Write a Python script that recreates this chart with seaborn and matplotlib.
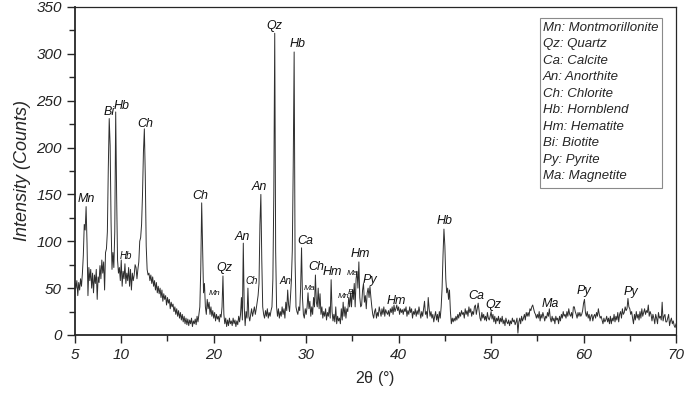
import numpy as np
import pandas as pd
import matplotlib
matplotlib.use('Agg')
import matplotlib.pyplot as plt
import seaborn as sns
from matplotlib.patches import Rectangle

# scan settings (degrees 2-theta)
scan_start = 5.0
scan_step = 0.1

# counts, one row per degree
counts = [
    55, 50, 58, 42, 56, 48, 60, 52, 66, 85,          # 5
    118, 112, 137, 98, 42, 72, 58, 70, 50, 66,       # 6
    45, 64, 55, 70, 38, 62, 56, 74, 60, 80,          # 7
    66, 78, 48, 88, 92, 110, 178, 231, 202, 120,     # 8
    70, 88, 72, 110, 238, 150, 80, 66, 72, 58,       # 9
    80, 52, 68, 60, 76, 55, 66, 58, 72, 52,          # 10
    70, 48, 66, 58, 64, 75, 72, 60, 70, 78,          # 11
    100, 104, 118, 150, 195, 220, 170, 95, 70, 64,   # 12
    66, 58, 64, 55, 62, 52, 58, 48, 56, 45,          # 13
    52, 44, 50, 40, 48, 36, 44, 38, 42, 32,          # 14
    40, 34, 38, 28, 35, 30, 33, 25, 30, 22,          # 15
    28, 20, 26, 18, 24, 16, 22, 14, 20, 12,          # 16
    18, 11, 17, 10, 16, 12, 18, 9, 15, 12,           # 17
    17, 11, 20, 14, 22, 30, 70, 141, 95, 45,         # 18
    55, 30, 22, 38, 28, 35, 22, 30, 20, 26,          # 19
    18, 24, 15, 22, 17, 20, 14, 22, 19, 30,          # 20
    63, 22, 12, 18, 9, 16, 10, 18, 12, 15,           # 21
    10, 18, 12, 16, 9, 15, 11, 20, 14, 22,           # 22
    40, 16, 98, 30, 10, 25, 18, 50, 20, 15,          # 23
    22, 28, 20, 25, 30, 22, 28, 35, 42, 55,          # 24
    118, 150, 80, 30, 22, 18, 26, 20, 28, 18,        # 25
    24, 20, 26, 30, 60, 150, 322, 90, 30, 20,        # 26
    28, 18, 25, 20, 30, 22, 28, 18, 35, 26,          # 27
    48, 32, 25, 40, 58, 90, 180, 302, 80, 30,        # 28
    25, 22, 30, 26, 50, 93, 40, 22, 18, 28,          # 29
    22, 30, 45, 28, 36, 20, 30, 22, 40, 30,          # 30
    64, 35, 30, 50, 28, 44, 22, 30, 18, 25,          # 31
    20, 28, 16, 24, 20, 30, 18, 59, 25, 15,          # 32
    22, 14, 30, 12, 20, 15, 18, 12, 28, 16,          # 33
    35, 20, 30, 18, 28, 25, 40, 30, 45, 30,          # 34
    48, 38, 55, 30, 60, 68, 50, 78, 40, 30,          # 35
    32, 48, 55, 35, 42, 28, 45, 50, 40, 52,          # 36
    40, 30, 22, 18, 25, 28, 18, 24, 20, 30,          # 37
    25, 20, 28, 22, 30, 20, 27, 24, 22, 26,          # 38
    20, 28, 24, 30, 22, 32, 25, 28, 32, 26,          # 39
    30, 22, 28, 24, 27, 22, 28, 25, 30, 20,          # 40
    26, 22, 30, 24, 28, 18, 25, 22, 28, 20,          # 41
    26, 22, 30, 24, 18, 25, 20, 28, 36, 22,          # 42
    25, 18, 40, 28, 20, 25, 18, 22, 14, 20,          # 43
    25, 16, 22, 14, 25, 18, 30, 50, 85, 113,         # 44
    95, 60, 45, 50, 38, 48, 25, 12, 18, 14,          # 45
    18, 15, 20, 16, 22, 18, 24, 20, 26, 22,          # 46
    24, 18, 28, 22, 26, 20, 30, 24, 28, 20,          # 47
    25, 22, 30, 32, 22, 28, 34, 26, 18, 15,          # 48
    24, 18, 22, 16, 20, 15, 24, 18, 16, 20,          # 49
    25, 17, 22, 14, 20, 12, 18, 15, 20, 12,          # 50
    18, 14, 20, 12, 16, 10, 18, 14, 12, 16,          # 51
    10, 15, 12, 18, 14, 16, 11, 14, 18, 2,           # 52
    14, 18, 12, 20, 15, 18, 22, 16, 24, 20,          # 53
    24, 20, 28, 26, 30, 32, 28, 24, 22, 18,          # 54
    22, 18, 25, 15, 22, 18, 24, 20, 15, 20,          # 55
    18, 24, 20, 28, 18, 14, 20, 15, 18, 12,          # 56
    20, 16, 18, 12, 20, 15, 22, 18, 25, 20,          # 57
    22, 18, 25, 20, 28, 22, 20, 24, 18, 30,          # 58
    30, 25, 22, 18, 24, 20, 24, 20, 22, 26,          # 59
    34, 38, 24, 20, 25, 18, 22, 15, 20, 22,          # 60
    15, 20, 22, 18, 24, 20, 28, 22, 18, 20,          # 61
    16, 12, 18, 14, 16, 20, 14, 18, 12, 20,          # 62
    12, 18, 15, 22, 14, 20, 16, 24, 14, 22,          # 63
    25, 18, 28, 22, 24, 30, 26, 28, 39, 30,          # 64
    28, 22, 25, 18, 12, 22, 16, 25, 18, 22,          # 65
    16, 25, 18, 28, 20, 24, 28, 22, 26, 24,          # 66
    32, 20, 25, 22, 15, 22, 18, 12, 22, 18,          # 67
    12, 24, 18, 20, 16, 35, 15, 20, 22, 14,          # 68
    14, 18, 22, 10, 15, 18, 12, 15, 10, 8,           # 69
    12,                                              # 70
]

# phase labels over the peaks
peak_labels = ['Mn', 'Bi', 'Hb', 'Ch', 'Hb', 'Ch', 'Mn', 'Qz', 'An', 'Ch', 'An', 'Qz',
               'Hb', 'An', 'Ca', 'Ma', 'Ch', 'Hm', 'Mn', 'Bi', 'Ma', 'Hm', 'Py', 'Hm',
               'Hb', 'Ca', 'Qz', 'Ma', 'Py', 'Py']
label_theta = [6.25, 8.7, 10.0, 12.6, 10.5, 18.6, 20.1, 21.1, 23.1, 24.1, 24.9, 26.6,
               29.1, 27.8, 29.9, 30.4, 31.1, 32.8, 34.0, 34.9, 35.0, 35.8, 36.9, 39.8,
               45.0, 48.45, 50.3, 56.45, 60.0, 65.1]
label_counts = [145, 238, 244, 225, 84, 148, 44, 71, 105, 58, 158, 330,
                310, 58, 100, 50, 73, 67, 41, 45, 66, 86, 59, 36,
                122, 42, 32, 33, 47, 46]
small_labels = {4: 7, 6: 6, 9: 7, 13: 7, 15: 6, 18: 6, 19: 6, 20: 6}

legend_lines = ['Mn: Montmorillonite', 'Qz: Quartz', 'Ca: Calcite', 'An: Anorthite',
                'Ch: Chlorite', 'Hb: Hornblend', 'Hm: Hematite', 'Bi: Biotite',
                'Py: Pyrite', 'Ma: Magnetite']

assert len(counts) == 651
two_theta = np.round(scan_start + scan_step * np.arange(len(counts)), 2)
df = pd.DataFrame({'two_theta': two_theta, 'counts': counts})

sns.set_style('ticks')
plt.rcParams['font.family'] = ['Liberation Sans', 'DejaVu Sans']
plt.rcParams['mathtext.fontset'] = 'custom'
plt.rcParams['mathtext.rm'] = 'Liberation Sans'
plt.rcParams['mathtext.it'] = 'Liberation Sans:italic'

fig = plt.figure(figsize=(6.85, 3.93), dpi=100)
ax = fig.add_axes([0.1095, 0.1476, 0.8774, 0.8346])

sns.lineplot(data=df, x='two_theta', y='counts', ax=ax, color='#2e2e2e',
             linewidth=0.7, estimator=None, sort=False)

for i, lab in enumerate(peak_labels):
    fs = small_labels.get(i, 9)
    ax.text(label_theta[i], label_counts[i], lab, fontsize=fs, style='italic',
            ha='center', va='center', color='#111111')

ax.set_xlim(5, 70)
ax.set_ylim(0, 350)
ax.set_xticks([5, 10, 20, 30, 40, 50, 60, 70])
ax.set_xticks([15, 25, 35, 45, 55, 65], minor=True)
ax.set_yticks(range(0, 351, 50))
ax.set_yticks(range(25, 350, 50), minor=True)
ax.tick_params(which='major', direction='out', length=6, width=1, labelsize=11,
               labelcolor='#222222')
ax.tick_params(which='minor', direction='out', length=4, width=1)
for lbl in ax.get_xticklabels() + ax.get_yticklabels():
    lbl.set_style('italic')

for side in ['top', 'right']:
    ax.spines[side].set_linewidth(0.9)
for side in ['left', 'bottom']:
    ax.spines[side].set_linewidth(1.3)

ax.set_xlabel(r'2θ $\mathit{(°)}$', fontsize=11.5, labelpad=5)
ax.set_ylabel('Intensity (Counts)', fontsize=13, style='italic', labelpad=4)

ax.add_patch(Rectangle((0.774, 0.448), 0.203, 0.518, transform=ax.transAxes,
                       facecolor='white', edgecolor='#8a8a8a', linewidth=0.8))
ax.text(0.778, 0.955, '\n'.join(legend_lines), transform=ax.transAxes, fontsize=9.5,
        style='italic', va='top', ha='left', linespacing=1.5)

fig.savefig('out.png', dpi=100)
